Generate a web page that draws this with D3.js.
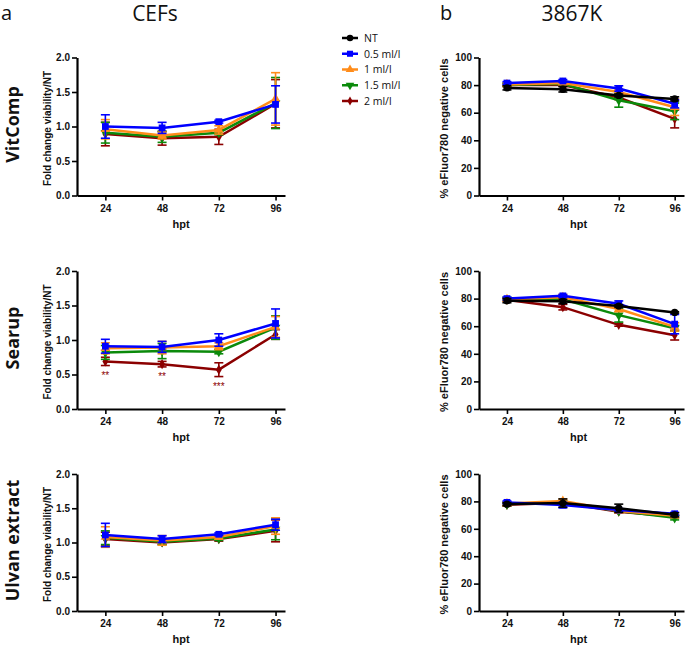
<!DOCTYPE html>
<html>
<head>
<meta charset="utf-8">
<script src="https://cdnjs.cloudflare.com/ajax/libs/d3/7.8.5/d3.min.js"></script>
<style>
  html, body { margin: 0; padding: 0; background: #fff; }
  svg { display: block; }
</style>
</head>
<body>
<svg id="chart" width="685" height="646"></svg>
<script>
// ---------------- DATA ----------------
const hpt = [24, 48, 72, 96];
const seriesNames = ["NT", "0.5 ml/l", "1 ml/l", "1.5 ml/l", "2 ml/l"];
const seriesColors = ["#000000", "#0000ff", "#ff8c1a", "#0b8a0b", "#8b0000"];
const rowLabels = ["VitComp", "Searup", "Ulvan extract"];
const colTitles = ["CEFs", "3867K"];
const panelLetters = ["a", "b"];
const cefTicks = [0.0, 0.5, 1.0, 1.5, 2.0];
const k3867Ticks = [0, 20, 40, 60, 80, 100];

// CEFs: fold change viability / NT  (series order: 0.5, 1, 1.5, 2 ml/l)
const cefVitMeans = [[1.00, 0.98, 1.07, 1.32], [0.96, 0.87, 0.95, 1.40], [0.91, 0.85, 0.91, 1.34], [0.89, 0.83, 0.85, 1.33]];
const cefVitErrs  = [[0.17, 0.08, 0.02, 0.27], [0.14, 0.05, 0.06, 0.38], [0.15, 0.08, 0.03, 0.37], [0.17, 0.10, 0.11, 0.35]];
const cefSeaMeans = [[0.91, 0.90, 1.00, 1.24], [0.88, 0.89, 0.91, 1.19], [0.82, 0.84, 0.83, 1.18], [0.69, 0.65, 0.57, 1.08]];
const cefSeaErrs  = [[0.10, 0.08, 0.09, 0.21], [0.08, 0.09, 0.05, 0.15], [0.10, 0.11, 0.03, 0.17], [0.06, 0.04, 0.10, 0.07]];
const cefSeaSig   = ["**", "**", "***", ""];
const cefUlvMeans = [[1.11, 1.05, 1.12, 1.26], [1.08, 1.03, 1.08, 1.24], [1.07, 1.01, 1.06, 1.19], [1.05, 1.00, 1.05, 1.17]];
const cefUlvErrs  = [[0.17, 0.05, 0.02, 0.08], [0.15, 0.07, 0.03, 0.12], [0.10, 0.04, 0.03, 0.15], [0.10, 0.03, 0.03, 0.16]];

// 3867K: % eFluor780 negative cells (series order: NT, 0.5, 1, 1.5, 2 ml/l)
const kVitMeans = [[78, 77, 72.5, 70], [81.5, 83, 77.5, 66.5], [80.5, 81.5, 75, 64], [80, 81, 69, 61], [80, 80, 71, 55.5]];
const kVitErrs  = [[1.5, 2, 1, 1.5], [1, 1, 2, 3], [1, 1, 2, 6], [1, 1, 5, 6], [1, 1, 1.5, 6.5]];
const kSeaMeans = [[78.5, 78, 74.6, 70], [80, 82, 76.3, 61.5], [79.5, 81, 72.5, 59.5], [79.5, 79.5, 68, 58.5], [79, 73.8, 61, 53.5]];
const kSeaErrs  = [[1.5, 1.5, 1, 0.5], [1, 1, 2, 7], [1, 2, 2, 3], [1, 1, 5, 2], [1, 2, 1, 3.5]];
const kUlvMeans = [[78, 78.8, 75, 70.2], [79.3, 77.3, 73.7, 71], [78.5, 80.2, 73, 69.5], [78, 79, 73, 68], [77.5, 79, 72.5, 69]];
const kUlvErrs  = [[1, 3, 3, 1.5], [1, 2, 1, 1], [1, 1.5, 1, 1], [1, 1, 1, 1.5], [1, 1, 1, 1]];

// ---------------- DRAW ----------------
const svg = d3.select("#chart");
const AX_FONT = "'Liberation Sans', Arial, sans-serif";
const TXT_FONT = "'Open Sans', 'Noto Sans', sans-serif";

const symbols = [
  {type: d3.symbolCircle, size: 42, rot: 0},
  {type: d3.symbolSquare, size: 46, rot: 0},
  {type: d3.symbolTriangle, size: 40, rot: 0},
  {type: d3.symbolTriangle, size: 40, rot: 180},
  {type: d3.symbolDiamond, size: 30, rot: 0}
];

const rows = [
  {top: 57.5, bottom: 195.5},
  {top: 271, bottom: 409},
  {top: 474, bottom: 611}
];
const cols = [
  {x0: 77, x1: 285, domain: [0, 2], ticks: cefTicks, fmt: d3.format(".1f"),
   ylabel: "Fold change viability/NT", ylabX: 51, ylabSize: 10, seriesIdx: [1, 2, 3, 4]},
  {x0: 479, x1: 684, domain: [0, 100], ticks: k3867Ticks, fmt: d3.format("d"),
   ylabel: "% eFluor780 negative cells", ylabX: 448, ylabSize: 11, seriesIdx: [0, 1, 2, 3, 4]}
];
const panelData = [
  [{m: cefVitMeans, e: cefVitErrs}, {m: kVitMeans, e: kVitErrs}],
  [{m: cefSeaMeans, e: cefSeaErrs, sig: cefSeaSig}, {m: kSeaMeans, e: kSeaErrs}],
  [{m: cefUlvMeans, e: cefUlvErrs}, {m: kUlvMeans, e: kUlvErrs}]
];

// Titles
const titleX = [155, 572];
const letterX = [1, 440];
colTitles.forEach((t, i) => {
  svg.append("text").attr("x", titleX[i]).attr("y", 21).attr("text-anchor", "middle")
    .style("font-family", TXT_FONT).style("font-size", "21px").attr("fill", "#111").text(t);
  svg.append("text").attr("x", letterX[i]).attr("y", 20)
    .style("font-family", TXT_FONT).style("font-size", "20px").attr("fill", "#111").text(panelLetters[i]);
});

// Row labels
rowLabels.forEach((t, r) => {
  const cy = (rows[r].top + rows[r].bottom) / 2 - 2;
  svg.append("text").attr("transform", `translate(18.5,${cy}) rotate(-90)`)
    .attr("text-anchor", "middle")
    .style("font-family", TXT_FONT).style("font-size", "18px").style("font-weight", "700")
    .attr("fill", "#111").text(t);
});

rows.forEach((row, r) => {
  cols.forEach((col, c) => {
    const g = svg.append("g");
    const x = d3.scaleLinear().domain([12, 100]).range([col.x0, col.x1]);
    const y = d3.scaleLinear().domain(col.domain).range([row.bottom, row.top]);
    const d = panelData[r][c];

    // axes
    const yAx = g.append("g").attr("transform", `translate(${col.x0},0)`)
      .call(d3.axisLeft(y).tickValues(col.ticks).tickFormat(col.fmt).tickSize(5).tickSizeOuter(0).tickPadding(2));
    const xAx = g.append("g").attr("transform", `translate(0,${row.bottom})`)
      .call(d3.axisBottom(x).tickValues(hpt).tickSize(5).tickSizeOuter(0).tickPadding(4));
    [yAx, xAx].forEach(a => {
      a.select(".domain").attr("stroke", "#000").attr("stroke-width", 2.2);
      a.selectAll(".tick line").attr("stroke", "#000").attr("stroke-width", 1.6);
      a.selectAll(".tick text").style("font-family", AX_FONT).style("font-size", "10px")
        .style("font-weight", "700").attr("fill", "#111");
    });

    // x label
    g.append("text").attr("x", (col.x0 + col.x1) / 2 + (c === 1 ? -3 : 0)).attr("y", row.bottom + 32)
      .attr("text-anchor", "middle").style("font-family", AX_FONT).style("font-size", "11px")
      .style("font-weight", "700").attr("fill", "#111").text("hpt");

    // y label
    g.append("text").attr("transform", `translate(${col.ylabX},${(row.top + row.bottom) / 2 + 2}) rotate(-90)`)
      .attr("text-anchor", "middle").style("font-family", AX_FONT).style("font-size", col.ylabSize + "px")
      .style("font-weight", "700").attr("fill", "#111").text(col.ylabel);

    // series: draw in reverse (2 ml/l first, NT last)
    const order = d.m.map((_, i) => i).reverse();
    const line = d3.line().x((v, i) => x(hpt[i])).y(v => y(v));
    order.forEach(i => {
      const sIdx = col.seriesIdx[i];
      const color = seriesColors[sIdx];
      const sg = g.append("g");
      // error bars
      d.m[i].forEach((v, k) => {
        const e = d.e[i][k];
        const cx = x(hpt[k]);
        sg.append("line").attr("x1", cx).attr("x2", cx).attr("y1", y(v - e)).attr("y2", y(v + e))
          .attr("stroke", color).attr("stroke-width", 1.6);
        [v - e, v + e].forEach(b => {
          sg.append("line").attr("x1", cx - 4.5).attr("x2", cx + 4.5).attr("y1", y(b)).attr("y2", y(b))
            .attr("stroke", color).attr("stroke-width", 1.6);
        });
      });
      sg.append("path").attr("d", line(d.m[i])).attr("fill", "none")
        .attr("stroke", color).attr("stroke-width", 2.5);
      const sym = symbols[sIdx];
      d.m[i].forEach((v, k) => {
        sg.append("path").attr("d", d3.symbol().type(sym.type).size(sym.size)())
          .attr("transform", `translate(${x(hpt[k])},${y(v)}) rotate(${sym.rot})`)
          .attr("fill", color);
      });
      // significance marks for the 2 ml/l series
      if (d.sig && sIdx === 4) {
        d.m[i].forEach((v, k) => {
          if (!d.sig[k]) return;
          sg.append("text").attr("x", x(hpt[k])).attr("y", y(v - d.e[i][k]) + 13)
            .attr("text-anchor", "middle").style("font-family", AX_FONT).style("font-size", "10px")
            .attr("fill", color).text(d.sig[k]);
        });
      }
    });
  });
});

// Legend
const legY0 = 38, legDY = 15.75;
seriesNames.forEach((name, i) => {
  const yy = legY0 + i * legDY;
  const color = seriesColors[i];
  svg.append("line").attr("x1", 342).attr("x2", 358).attr("y1", yy).attr("y2", yy)
    .attr("stroke", color).attr("stroke-width", 2.5);
  const sym = symbols[i];
  svg.append("path").attr("d", d3.symbol().type(sym.type).size(sym.size * 0.8)())
    .attr("transform", `translate(350,${yy}) rotate(${sym.rot})`).attr("fill", color);
  svg.append("text").attr("x", 364).attr("y", yy + 3.8)
    .style("font-family", TXT_FONT).style("font-size", "10.5px").attr("fill", "#111").text(name);
});
</script>
</body>
</html>
